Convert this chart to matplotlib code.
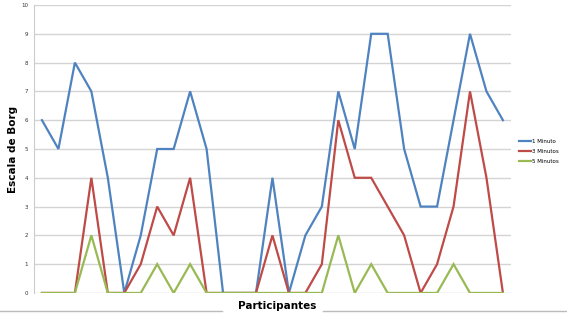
import matplotlib
matplotlib.use("Agg")
import matplotlib.pyplot as plt
from matplotlib.lines import Line2D
import numpy as np

# Borg scale per participant (29 participants)
participants = list(range(1, 30))
min1 = [6, 5, 8, 7, 4, 0, 2, 5, 5, 7, 5, 0, 0, 0, 4, 0, 2, 3, 7, 5, 9, 9, 5, 3, 3, 6, 9, 7, 6]
min3 = [0, 0, 0, 4, 0, 0, 1, 3, 2, 4, 0, 0, 0, 0, 2, 0, 0, 1, 6, 4, 4, 3, 2, 0, 1, 3, 7, 4, 0]
min5 = [0, 0, 0, 2, 0, 0, 0, 1, 0, 1, 0, 0, 0, 0, 0, 0, 0, 0, 2, 0, 1, 0, 0, 0, 0, 1, 0, 0, 0]
series_names = ["1 Minuto", "3 Minutos", "5 Minutos"]
colors = ["#4F83C0", "#BE4B48", "#98B954"]
y_ticks = list(range(0, 11))

fig = plt.figure(figsize=(5.67, 3.13), dpi=100)
ax = fig.add_axes([0.0595, 0.064, 0.842, 0.920])

x = np.arange(len(participants))
for vals, name, c in zip([min1, min3, min5], series_names, colors):
    ax.plot(x, vals, color=c, lw=1.6, label=name, solid_joinstyle="miter", zorder=3)

ax.set_xlim(-0.5, len(participants) - 0.5)
ax.set_ylim(0, 10)
ax.set_yticks(y_ticks)
ax.set_xticks([])
ax.tick_params(axis="y", labelsize=4, length=0, pad=4, colors="#333333")
ax.grid(axis="y", color="#d4d4d4", lw=1)
for s in ["top", "right", "bottom"]:
    ax.spines[s].set_visible(False)
ax.spines["left"].set_color("#cccccc")
ax.spines["left"].set_linewidth(0.8)
ax.set_axisbelow(True)

ax.set_ylabel("Escala de Borg", fontsize=7.5, fontweight="bold")
ax.yaxis.set_label_coords(-0.034, 0.5)
fig.text(0.488, 0.022, "Participantes", fontsize=7.5, fontweight="bold",
         ha="center", va="center")

# thin frame line at the bottom of the picture
fig.add_artist(Line2D([0, 0.392], [0.006, 0.006], color="#bbbbbb", lw=1))
fig.add_artist(Line2D([0.57, 1], [0.006, 0.006], color="#bbbbbb", lw=1))

ax.legend(loc="center left", bbox_to_anchor=(1.005, 0.49), frameon=False,
          fontsize=4, handlelength=2.2, handletextpad=0.3, labelspacing=0.9)

fig.savefig("out.png", dpi=100)
